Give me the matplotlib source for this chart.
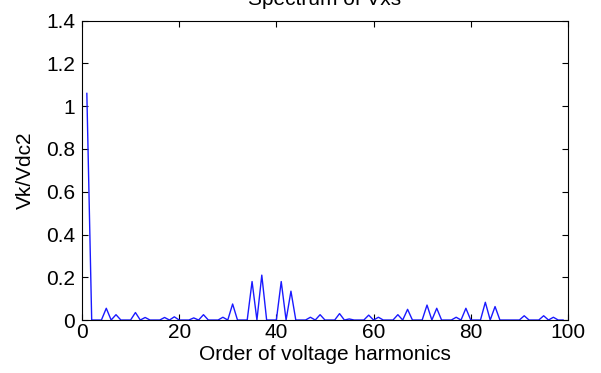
import numpy as np
import matplotlib.pyplot as plt
from matplotlib.ticker import FormatStrFormatter

# odd harmonic orders and their normalised amplitude (even orders are zero)
orders = [1, 3, 5, 7, 9, 11, 13, 15, 17, 19, 21, 23, 25, 27, 29, 31, 33, 35,
          37, 39, 41, 43, 45, 47, 49, 51, 53, 55, 57, 59, 61, 63, 65, 67, 69,
          71, 73, 75, 77, 79, 81, 83, 85, 87, 89, 91, 93, 95, 97, 99]
amps = [1.06, 0.0, 0.055, 0.025, 0.0, 0.035, 0.012, 0.0, 0.012, 0.015,
        0.0, 0.01, 0.025, 0.0, 0.013, 0.075, 0.0, 0.18, 0.21, 0.0,
        0.18, 0.135, 0.0, 0.013, 0.025, 0.0, 0.03, 0.005, 0.0, 0.023,
        0.013, 0.0, 0.025, 0.05, 0.0, 0.07, 0.055, 0.0, 0.013, 0.055,
        0.0, 0.083, 0.063, 0.0, 0.0, 0.02, 0.0, 0.02, 0.013, 0.0]

k = np.arange(1, 100)
vk = np.zeros(len(k))
vk[np.array(orders) - 1] = amps

plt.rcParams['font.family'] = ['Liberation Sans', 'DejaVu Sans']

fig = plt.figure(figsize=(6.01, 3.73), dpi=100)
ax = fig.add_axes([0.1364, 0.142, 0.8086, 0.8025])
ax.plot(k, vk, color='#1a1aff', linewidth=1.0)

ax.set_xlim(0, 100)
ax.set_ylim(0, 1.4)
ax.set_xticks(np.arange(0, 101, 20))
ax.set_yticks(np.arange(0, 1.41, 0.2))
ax.yaxis.set_major_formatter(FormatStrFormatter('%g'))
ax.tick_params(direction='in', top=True, right=True, length=4, labelsize=15)
ax.tick_params(axis='y', pad=5)
ax.tick_params(axis='x', pad=2)
for s in ax.spines.values():
    s.set_linewidth(0.8)

ax.set_xlabel("Order of voltage harmonics", fontsize=15, labelpad=2)
ax.set_ylabel("Vk/Vdc2", fontsize=15, labelpad=8)
fig.text(0.54, 1 - 5 / 373, "Spectrum of Vxs", ha='center', va='baseline',
         fontsize=15)

fig.savefig("out.png", dpi=100)
